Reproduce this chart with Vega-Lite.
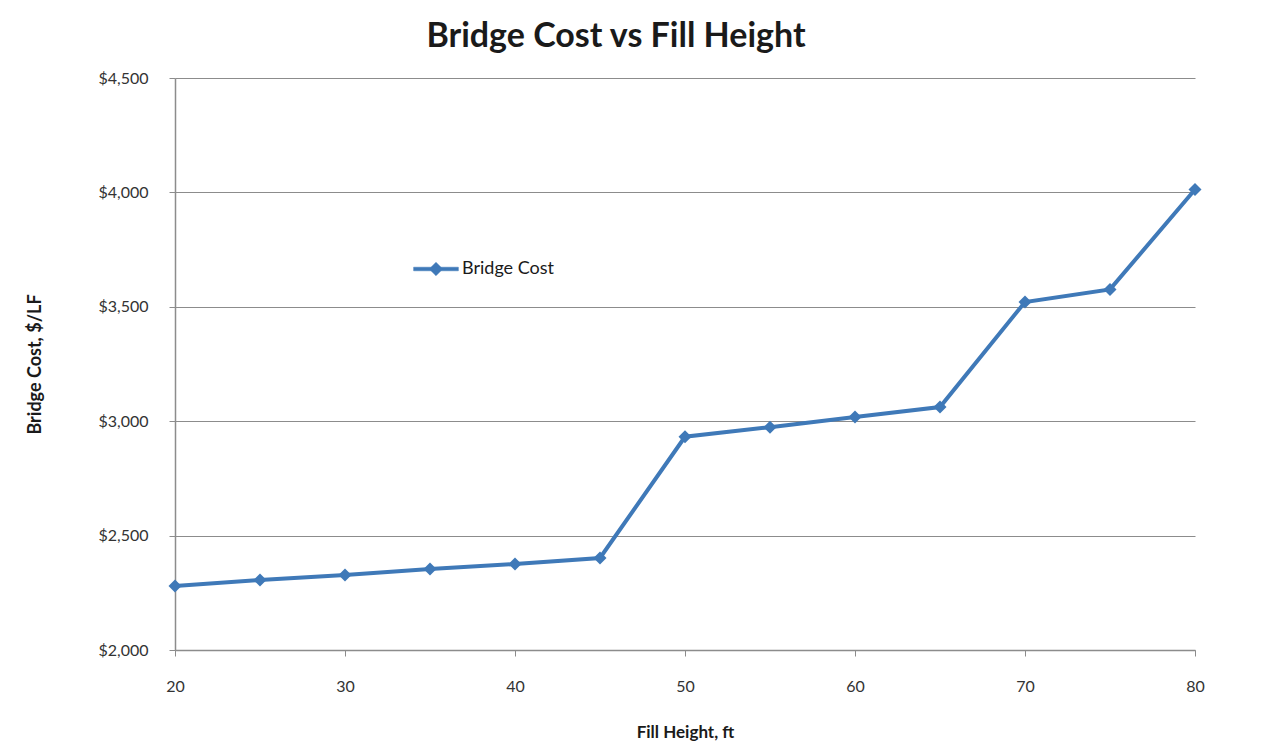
{
  "$schema": "https://vega.github.io/schema/vega-lite/v6.json",
  "autosize": "none",
  "width": 1020,
  "height": 572,
  "padding": {"left": 175, "top": 78, "right": 85, "bottom": 102},
  "background": "white",
  "config": {
    "font": "Lato",
    "view": {"stroke": null}
  },
  "title": {
    "text": "Bridge Cost vs Fill Height",
    "fontSize": 34,
    "fontWeight": "bold",
    "font": "Lato",
    "color": "#1a1a1a",
    "anchor": "middle",
    "dx": -69,
    "offset": 16
  },
  "data": {
    "values": [
      {"fill": 20, "cost": 2280, "series": "Bridge Cost"},
      {"fill": 25, "cost": 2306, "series": "Bridge Cost"},
      {"fill": 30, "cost": 2328, "series": "Bridge Cost"},
      {"fill": 35, "cost": 2354, "series": "Bridge Cost"},
      {"fill": 40, "cost": 2376, "series": "Bridge Cost"},
      {"fill": 45, "cost": 2402, "series": "Bridge Cost"},
      {"fill": 50, "cost": 2932, "series": "Bridge Cost"},
      {"fill": 55, "cost": 2974, "series": "Bridge Cost"},
      {"fill": 60, "cost": 3018, "series": "Bridge Cost"},
      {"fill": 65, "cost": 3062, "series": "Bridge Cost"},
      {"fill": 70, "cost": 3521, "series": "Bridge Cost"},
      {"fill": 75, "cost": 3576, "series": "Bridge Cost"},
      {"fill": 80, "cost": 4013, "series": "Bridge Cost"}
    ]
  },
  "mark": {
    "type": "line",
    "strokeWidth": 4,
    "point": {"shape": "diamond", "size": 170, "filled": true, "color": "#4f81bd", "opacity": 1}
  },
  "encoding": {
    "x": {
      "field": "fill",
      "type": "quantitative",
      "scale": {"domain": [20, 80], "nice": false, "zero": false},
      "axis": {
        "title": "Fill Height, ft",
        "titleFontSize": 17,
        "titleFontWeight": "bold",
        "titleColor": "#1a1a1a",
        "titlePadding": 30,
        "values": [20, 30, 40, 50, 60, 70, 80],
        "labelFontSize": 16,
        "labelColor": "#333333",
        "labelPadding": 22,
        "labelFlush": false,
        "tickSize": 6,
        "tickColor": "#8c8c8c",
        "domainColor": "#8c8c8c",
        "domainWidth": 1.5,
        "grid": false
      }
    },
    "y": {
      "field": "cost",
      "type": "quantitative",
      "scale": {"domain": [2000, 4500], "nice": false, "zero": false},
      "axis": {
        "title": "Bridge Cost, $/LF",
        "titleFontSize": 18,
        "titleFontWeight": "bold",
        "titleColor": "#1a1a1a",
        "titlePadding": 53,
        "values": [2000, 2500, 3000, 3500, 4000, 4500],
        "format": "$,.0f",
        "labelFontSize": 16,
        "labelColor": "#333333",
        "labelPadding": 21,
        "labelFlush": false,
        "tickSize": 6,
        "tickColor": "#8c8c8c",
        "domainColor": "#8c8c8c",
        "domainWidth": 1.5,
        "grid": true,
        "gridColor": "#8c8c8c",
        "gridWidth": 1.2
      }
    },
    "color": {
      "field": "series",
      "type": "nominal",
      "scale": {"range": ["#3f79b8"]},
      "legend": {
        "title": null,
        "orient": "none",
        "legendX": 238,
        "legendY": 168,
        "labelFontSize": 18,
        "labelColor": "#1a1a1a",
        "symbolType": "M-1,-0.08L1,-0.08L1,0.08L-1,0.08Z M0,-0.3L0.3,0L0,0.3L-0.3,0Z",
        "symbolSize": 2000,
        "symbolFillColor": "#3f79b8",
        "symbolStrokeColor": "#3f79b8",
        "symbolStrokeWidth": 0.5,
        "labelOffset": 3
      }
    }
  }
}
